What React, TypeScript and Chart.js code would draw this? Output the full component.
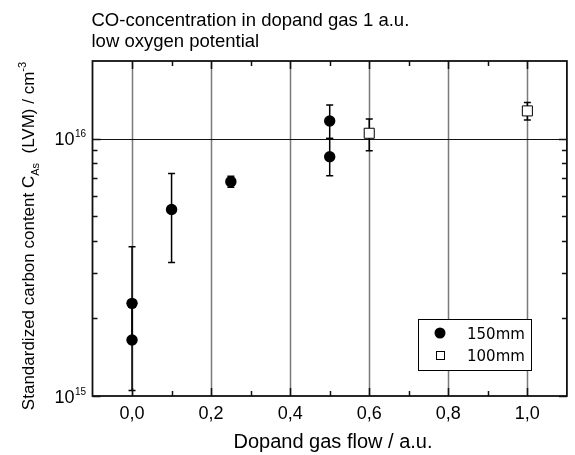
import React, { useEffect, useRef } from 'react';
import { Chart, registerables } from 'chart.js';

Chart.register(...registerables);

// ---------- data ----------
const titleLines = ['CO-concentration in dopand gas 1 a.u.', 'low oxygen potential'];
const xAxisTitle = 'Dopand gas flow / a.u.';
const xMajorTicks = [0, 0.2, 0.4, 0.6, 0.8, 1.0];
const xMinorTicks = [0.1, 0.3, 0.5, 0.7, 0.9];
const yMajorTicks = [1e15, 1e16];
const yMinorTicks = [2e15, 3e15, 4e15, 5e15, 6e15, 7e15, 8e15, 9e15];

const series150Label = '150mm';
const series150X = [0, 0, 0.1, 0.25, 0.5, 0.5];
const series150Y = [2.29e15, 1.65e15, 5.3e15, 6.8e15, 1.17e16, 8.5e15];
const series150Low = [1.6e15, 1.05e15, 3.3e15, 6.46e15, 1.0e16, 7.17e15];
const series150High = [3.8e15, 2.3e15, 7.32e15, 7.13e15, 1.35e16, 1.0e16];

const series100Label = '100mm';
const series100X = [0.6, 1.0];
const series100Y = [1.048e16, 1.28e16];
const series100Low = [8.97e15, 1.18e16];
const series100High = [1.19e16, 1.38e16];

const SANS = '"Liberation Sans", Arial, Helvetica, sans-serif';
const LEGEND_FONT = '"DejaVu Sans", Verdana, sans-serif';

function fmtX(v: number) {
  return v.toFixed(1).replace('.', ',');
}

const drawPlugin = {
  id: 'customDraw',
  beforeDatasetsDraw(chart: any) {
    const { ctx, chartArea: a, scales } = chart;
    const xs = scales.x;
    const ys = scales.y;
    ctx.save();
    // vertical grid lines
    ctx.strokeStyle = '#7a7a7a';
    ctx.lineWidth = 1.5;
    xMajorTicks.forEach((v) => {
      const px = Math.round(xs.getPixelForValue(v)) + 0.5;
      ctx.beginPath();
      ctx.moveTo(px, a.top);
      ctx.lineTo(px, a.bottom);
      ctx.stroke();
    });
    // horizontal line at 1e16
    ctx.strokeStyle = '#111';
    ctx.lineWidth = 1.2;
    const py16 = Math.round(ys.getPixelForValue(1e16)) + 0.5;
    ctx.beginPath();
    ctx.moveTo(a.left, py16);
    ctx.lineTo(a.right, py16);
    ctx.stroke();

    // error bars
    const drawErr = (xArr: number[], lo: number[], hi: number[]) => {
      ctx.strokeStyle = '#000';
      ctx.lineWidth = 1.5;
      xArr.forEach((xv, i) => {
        const px = xs.getPixelForValue(xv);
        const pl = ys.getPixelForValue(lo[i]);
        const ph = ys.getPixelForValue(hi[i]);
        ctx.beginPath();
        ctx.moveTo(px, pl);
        ctx.lineTo(px, ph);
        ctx.moveTo(px - 3.5, pl);
        ctx.lineTo(px + 3.5, pl);
        ctx.moveTo(px - 3.5, ph);
        ctx.lineTo(px + 3.5, ph);
        ctx.stroke();
      });
    };
    drawErr(series150X, series150Low, series150High);
    drawErr(series100X, series100Low, series100High);
    ctx.restore();
  },
  afterDraw(chart: any) {
    const { ctx, chartArea: a, scales } = chart;
    const xs = scales.x;
    const ys = scales.y;
    ctx.save();

    // ticks (inward)
    ctx.strokeStyle = '#111';
    ctx.lineWidth = 1.5;
    ctx.beginPath();
    xMajorTicks.forEach((v) => {
      const px = Math.round(xs.getPixelForValue(v)) + 0.5;
      ctx.moveTo(px, a.bottom);
      ctx.lineTo(px, a.bottom - 8);
      ctx.moveTo(px, a.top);
      ctx.lineTo(px, a.top + 8);
    });
    xMinorTicks.forEach((v) => {
      const px = Math.round(xs.getPixelForValue(v)) + 0.5;
      ctx.moveTo(px, a.bottom);
      ctx.lineTo(px, a.bottom - 5);
      ctx.moveTo(px, a.top);
      ctx.lineTo(px, a.top + 5);
    });
    yMinorTicks.forEach((v) => {
      const py = Math.round(ys.getPixelForValue(v)) + 0.5;
      ctx.moveTo(a.left, py);
      ctx.lineTo(a.left + 5, py);
      ctx.moveTo(a.right, py);
      ctx.lineTo(a.right - 5, py);
    });
    yMajorTicks.forEach((v) => {
      const py = Math.round(ys.getPixelForValue(v)) + 0.5;
      ctx.moveTo(a.left, py);
      ctx.lineTo(a.left + 8, py);
      ctx.moveTo(a.right, py);
      ctx.lineTo(a.right - 8, py);
    });
    ctx.stroke();

    // frame
    ctx.strokeStyle = '#111';
    ctx.lineWidth = 1.8;
    ctx.strokeRect(a.left, a.top, a.right - a.left, a.bottom - a.top);

    ctx.fillStyle = '#000';
    // x tick labels
    ctx.font = `18px ${SANS}`;
    ctx.textAlign = 'center';
    ctx.textBaseline = 'alphabetic';
    xMajorTicks.forEach((v) => {
      ctx.fillText(fmtX(v), xs.getPixelForValue(v), a.bottom + 23);
    });

    // y tick labels 10^n
    yMajorTicks.forEach((v) => {
      const py = ys.getPixelForValue(v);
      const exp = String(Math.round(Math.log10(v)));
      ctx.font = `18px ${SANS}`;
      ctx.textAlign = 'right';
      ctx.fillText('10', a.left - 18, py + 6.5);
      ctx.font = `10px ${SANS}`;
      ctx.textAlign = 'left';
      ctx.fillText(exp, a.left - 17.5, py - 1.5);
    });

    // x axis title
    ctx.font = `20px ${SANS}`;
    ctx.textAlign = 'center';
    ctx.fillText(xAxisTitle, 333, 448);

    // title
    ctx.font = `18.5px ${SANS}`;
    ctx.textAlign = 'left';
    ctx.fillText(titleLines[0], 91.5, 26);
    ctx.fillText(titleLines[1], 91.5, 47);

    // y axis title with sub/superscript
    const parts = [
      { t: 'Standardized carbon content C', s: 17, dy: 0 },
      { t: 'As', s: 11, dy: 5 },
      { t: '  (LVM) / cm', s: 17, dy: 0 },
      { t: '-3', s: 11, dy: -8 },
    ];
    let total = 0;
    parts.forEach((p) => {
      ctx.font = `${p.s}px ${SANS}`;
      total += ctx.measureText(p.t).width;
    });
    ctx.translate(34, 236);
    ctx.rotate(-Math.PI / 2);
    ctx.textAlign = 'left';
    let cx = -total / 2;
    parts.forEach((p) => {
      ctx.font = `${p.s}px ${SANS}`;
      ctx.fillText(p.t, cx, p.dy);
      cx += ctx.measureText(p.t).width;
    });
    ctx.setTransform(1, 0, 0, 1, 0, 0);

    // legend
    const lx = 418.5, ly = 319.5, lw = 113, lh = 51;
    ctx.fillStyle = '#fff';
    ctx.fillRect(lx, ly, lw, lh);
    ctx.strokeStyle = '#000';
    ctx.lineWidth = 1;
    ctx.strokeRect(lx, ly, lw, lh);
    ctx.fillStyle = '#000';
    ctx.beginPath();
    ctx.arc(440, 333, 5.5, 0, Math.PI * 2);
    ctx.fill();
    ctx.fillStyle = '#fff';
    ctx.fillRect(436, 351, 8, 8);
    ctx.strokeRect(436.5, 351.5, 8, 8);
    ctx.fillStyle = '#000';
    ctx.font = `15px ${LEGEND_FONT}`;
    ctx.textAlign = 'left';
    ctx.fillText(series150Label, 467, 338.5);
    ctx.fillText(series100Label, 467, 360.5);

    ctx.restore();
  },
};

export default function App() {
  const ref = useRef<HTMLCanvasElement | null>(null);
  useEffect(() => {
    if (!ref.current) return;
    const chart = new Chart(ref.current, {
      type: 'scatter',
      data: {
        datasets: [
          {
            label: series150Label,
            data: series150X.map((x, i) => ({ x, y: series150Y[i] })),
            pointStyle: 'circle',
            pointRadius: 5.7,
            backgroundColor: '#000',
            borderColor: '#000',
            borderWidth: 0,
          },
          {
            label: series100Label,
            data: series100X.map((x, i) => ({ x, y: series100Y[i] })),
            pointStyle: 'rect',
            pointRadius: 7.1,
            backgroundColor: '#fff',
            borderColor: '#000',
            borderWidth: 1,
          },
        ],
      },
      options: {
        animation: false,
        responsive: false,
        devicePixelRatio: 1,
        layout: { padding: { left: 92.5, top: 61, right: 2, bottom: 59 } },
        scales: {
          x: { type: 'linear', min: -0.1, max: 1.1, display: false },
          y: { type: 'logarithmic', min: 1e15, max: 2e16, display: false },
        },
        plugins: {
          legend: { display: false },
          tooltip: { enabled: false },
        },
      },
      plugins: [drawPlugin],
    });
    return () => chart.destroy();
  }, []);
  return (
    <div style={{ position: 'fixed', left: 0, top: 0, width: 575, height: 455, background: '#fff' }}>
      <canvas ref={ref} width={575} height={455} />
    </div>
  );
}
